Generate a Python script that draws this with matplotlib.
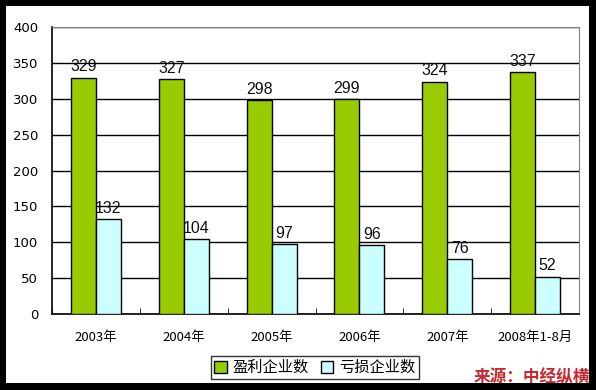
import matplotlib
matplotlib.use("Agg")
import matplotlib.pyplot as plt
from matplotlib.patches import Rectangle
import numpy as np

categories = ["2003年", "2004年", "2005年", "2006年", "2007年", "2008年1-8月"]
profit = [329, 327, 298, 299, 324, 337]
loss = [132, 104, 97, 96, 76, 52]
series_names = ["盈利企业数", "亏损企业数"]
yticks = [0, 50, 100, 150, 200, 250, 300, 350, 400]

plt.rcParams['font.family'] = ['Noto Sans CJK SC', 'DejaVu Sans']

W, H = 596, 390
fig = plt.figure(figsize=(W/100, H/100), dpi=100)
fig.patch.set_facecolor('black')
fig.add_artist(Rectangle((6/W, (H-383)/H), (589-6)/W, (383-6)/H,
                         transform=fig.transFigure, facecolor='white',
                         edgecolor='none', zorder=0))

ax = fig.add_axes([52/W, (H-314)/H, 527/W, 287/H])
ax.set_facecolor('white')
x = np.arange(len(categories))
bw = 0.285
ax.bar(x - bw/2, profit, bw, color='#99CC00', edgecolor='black', linewidth=1, label=series_names[0], zorder=3)
ax.bar(x + bw/2, loss, bw, color='#CCFFFF', edgecolor='black', linewidth=1, label=series_names[1], zorder=3)

for xi, v in zip(x - bw/2, profit):
    ax.text(xi, v + 5, str(v), ha='center', va='bottom', fontsize=11.5,
            family=['Liberation Sans', 'DejaVu Sans'], color='#111111', zorder=4)
for xi, v in zip(x + bw/2, loss):
    ax.text(xi, v + 5, str(v), ha='center', va='bottom', fontsize=11.5,
            family=['Liberation Sans', 'DejaVu Sans'], color='#111111', zorder=4)

ax.set_xlim(-0.5, len(categories) - 0.5)
ax.set_ylim(0, 400)
ax.set_yticks(yticks)
ax.set_yticklabels([str(t) for t in yticks], fontsize=9.5, family=['DejaVu Sans'])
ax.yaxis.grid(True, color='black', linewidth=1, zorder=1)
ax.set_axisbelow(True)
ax.tick_params(axis='y', length=0, pad=10)

ax.set_xticks(x)
ax.set_xticklabels(categories, fontsize=9.5)
ax.set_xticks(np.arange(-0.5, len(categories)), minor=True)
ax.tick_params(axis='x', which='major', length=0, pad=12)
ax.tick_params(axis='x', which='minor', length=4, direction='in', color='black')

for s in ['top', 'right']:
    ax.spines[s].set_color('#808080')
for s in ['left', 'bottom']:
    ax.spines[s].set_color('black')
    ax.spines[s].set_linewidth(1.2)

leg = fig.legend(loc='center', bbox_to_anchor=(315/W, (H-367.5)/H), ncol=2,
                 fontsize=11, frameon=True, fancybox=False, edgecolor='black',
                 handlelength=0.8, handleheight=0.8, handletextpad=0.4,
                 columnspacing=0.8, borderpad=0.2, borderaxespad=0)
leg.get_frame().set_linewidth(1)

fig.text(590/W, (H-377)/H, "来源：中经纵横", ha='right', va='center', fontsize=12,
         fontweight='heavy', style='italic', color='#C8282D')

fig.savefig("out.png", dpi=100, facecolor=fig.get_facecolor())
